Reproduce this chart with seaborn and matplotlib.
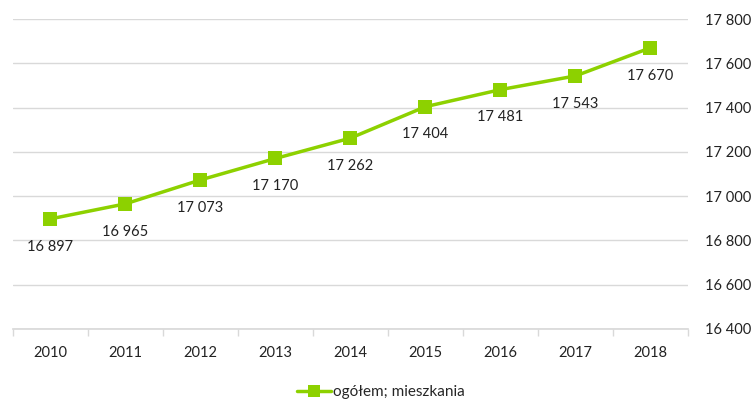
import matplotlib
matplotlib.use("Agg")
import matplotlib.pyplot as plt
import seaborn as sns
import pandas as pd
import numpy as np

years = ["2010", "2011", "2012", "2013", "2014", "2015", "2016", "2017", "2018"]
values = [16897, 16965, 17073, 17170, 17262, 17404, 17481, 17543, 17670]
series_name = "ogółem; mieszkania"
y_ticks = [16400, 16600, 16800, 17000, 17200, 17400, 17600, 17800]

sns.set_theme(style="white")
plt.rcParams["font.family"] = ["Lato", "DejaVu Sans"]

green = "#8DD100"
df = pd.DataFrame({"x": np.arange(len(years)), "y": values, "s": series_name})

fig = plt.figure(figsize=(7.55, 4.05), dpi=100)
ax = fig.add_axes([0.0172, 0.188, 0.894, 0.765])
sns.lineplot(data=df, x="x", y="y", hue="s", palette=[green], marker="s",
             markersize=10, markeredgewidth=0, linewidth=2.5, ax=ax)

def fmt(v):
    return f"{v:,}".replace(",", " ")

for i, v in enumerate(values):
    ax.annotate(fmt(v), (i, v), xytext=(0, -20), textcoords="offset points",
                ha="center", va="center", fontsize=10.5, color="#222222")

ax.set_xlim(-0.5, len(years) - 0.5)
ax.set_ylim(16400, 17800)
ax.set_yticks(y_ticks)
ax.set_yticklabels([fmt(t) for t in y_ticks], fontsize=10.5, color="#222222")
ax.yaxis.tick_right()
ax.tick_params(axis="y", length=0, pad=12)
ax.grid(axis="y", color="#d9d9d9", linewidth=1)
ax.set_xticks(np.arange(len(years)))
ax.set_xticklabels(years, fontsize=10.5, color="#222222")
ax.set_xticks(np.arange(-0.5, len(years)), minor=True)
ax.tick_params(axis="x", which="major", length=0, pad=12)
ax.tick_params(axis="x", which="minor", length=5, color="#d9d9d9", width=1, bottom=True)
for s in ["top", "left", "right"]:
    ax.spines[s].set_visible(False)
ax.spines["bottom"].set_color("#d9d9d9")
ax.set_xlabel("")
ax.set_ylabel("")

h, l = ax.get_legend_handles_labels()
for hh in h:
    hh.set_markersize(8)
ax.legend(h, l, loc="center", bbox_to_anchor=(0.545, -0.205), frameon=False,
          fontsize=11, handlelength=2.2, handletextpad=0.1)

fig.savefig("out.png", dpi=100)
